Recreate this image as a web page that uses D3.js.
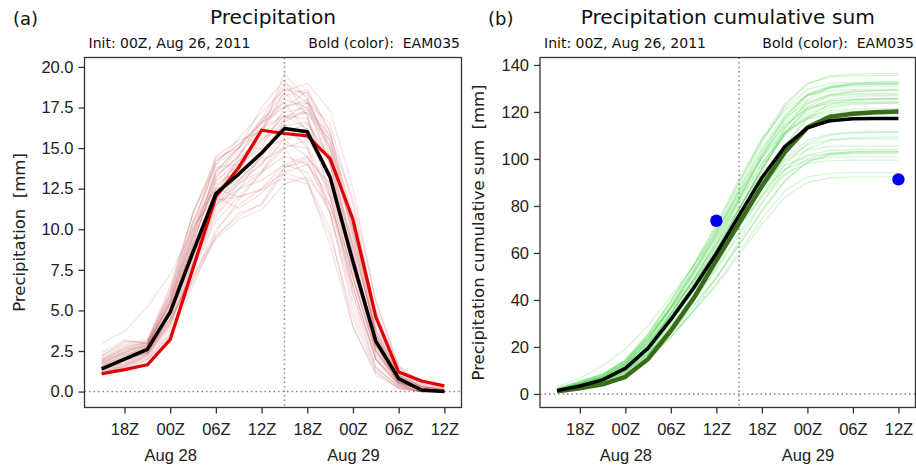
<!doctype html>
<html lang="en">
<head>
<meta charset="utf-8">
<title>Precipitation</title>
<style>
  body { margin: 0; background: white; }
  svg { display: block; font-family: "DejaVu Sans", sans-serif; }
  .axis path, .axis line { stroke: #333; stroke-width: 1.3px; }
  .axis text { font-size: 16.5px; fill: #222; }
  .spine { fill: none; stroke: #333; stroke-width: 1.3px; }
  .guide { stroke: #888; stroke-width: 1.5px; stroke-dasharray: 1.5,3; }
  .member { fill: none; }
  .title { font-size: 20.2px; fill: #111; text-anchor: middle; }
  .tag { font-size: 18px; fill: #111; }
  .sub { font-size: 14px; fill: #111; white-space: pre; }
  .ylabel { font-size: 16.5px; fill: #222; text-anchor: middle; white-space: pre; }
</style>
</head>
<body>
<script src="https://cdnjs.cloudflare.com/ajax/libs/d3/7.8.5/d3.min.js"></script>
<script>
// valid times, every 3 hours
var times = ["2011-08-27T15:00Z","2011-08-27T18:00Z","2011-08-27T21:00Z","2011-08-28T00:00Z",
             "2011-08-28T03:00Z","2011-08-28T06:00Z","2011-08-28T09:00Z","2011-08-28T12:00Z",
             "2011-08-28T15:00Z","2011-08-28T18:00Z","2011-08-28T21:00Z","2011-08-29T00:00Z",
             "2011-08-29T03:00Z","2011-08-29T06:00Z","2011-08-29T09:00Z","2011-08-29T12:00Z"];
var splitTime = "2011-08-28T15:00Z";

// ensemble mean (black) and highlighted member EAM035 (colour)
var meanPrecip   = [1.4,2.0,2.6,4.9,8.6,12.2,13.4,14.7,16.2,16.0,13.2,8.0,3.1,0.8,0.1,0.0];
var eam035Precip = [1.1,1.35,1.65,3.2,7.6,12.0,13.8,16.1,15.9,15.75,14.35,10.6,4.6,1.2,0.65,0.35];

// other ensemble members (3-hourly precipitation, mm)
var members = [
  [1.6,2.2,2.8,5.5,9.5,13.0,14.2,15.5,17.0,16.8,13.0,7.0,2.5,0.6,0.1,0.0],
  [1.2,1.6,2.3,4.2,7.5,11.5,13.5,16.0,18.5,19.0,17.3,12.5,5.5,1.5,0.5,0.2],
  [1.8,2.5,3.0,6.0,10.5,12.5,12.0,12.5,13.5,13.0,10.0,4.0,1.0,0.2,0.0,0.0],
  [1.0,1.4,2.0,3.5,7.0,9.5,11.0,11.5,13.5,14.0,12.0,6.0,1.5,0.3,0.0,0.0],
  [2.2,3.0,3.2,6.5,11.0,14.0,15.0,17.5,19.2,17.0,12.0,6.5,2.0,0.4,0.1,0.0],
  [3.0,3.7,5.2,7.2,10.0,12.5,13.0,14.5,16.5,15.0,11.0,5.5,1.5,0.3,0.0,0.0],
  [1.3,1.8,2.5,4.5,8.0,12.0,14.5,16.5,17.5,18.5,16.0,10.5,4.0,1.2,0.3,0.1],
  [1.5,2.1,2.7,5.2,9.0,13.5,14.8,15.0,15.5,14.5,11.5,7.5,3.0,0.8,0.2,0.0],
  [1.1,1.5,2.2,4.0,7.8,11.0,12.5,13.5,15.0,15.5,13.5,9.0,3.5,1.0,0.3,0.1],
  [1.9,2.6,2.9,5.8,10.0,14.5,15.5,16.0,18.0,17.5,14.0,8.5,3.0,0.7,0.1,0.0],
  [1.4,1.9,2.4,4.6,8.2,11.8,13.0,14.0,16.0,16.5,14.5,10.0,4.5,1.2,0.4,0.1],
  [1.7,2.3,2.6,5.0,8.5,11.5,12.5,13.0,14.0,13.5,11.0,6.0,2.0,0.5,0.0,0.0],
  [2.0,2.8,3.0,6.2,10.5,13.8,14.0,15.0,17.5,18.0,15.0,9.5,3.5,0.9,0.2,0.0],
  [1.2,1.7,2.3,4.3,7.5,10.5,12.0,13.5,14.5,14.0,11.5,7.0,2.5,0.6,0.1,0.0],
  [1.5,2.0,2.5,4.8,9.2,13.0,14.0,16.0,19.6,18.0,14.5,8.5,3.0,0.7,0.1,0.0],
  [1.3,1.8,2.4,4.4,8.0,11.2,12.8,14.0,15.5,16.0,13.0,7.5,2.8,0.6,0.1,0.0],
  [2.4,3.2,2.9,5.4,9.8,13.2,14.5,16.8,17.8,16.0,12.5,7.0,2.2,0.5,0.1,0.0],
  [1.6,2.2,2.7,5.0,8.8,12.3,13.8,15.2,16.8,17.2,15.5,11.0,5.0,1.5,0.5,0.2],
  [1.1,1.6,2.1,3.8,7.0,10.0,11.5,12.5,14.0,14.5,12.5,8.0,3.0,0.8,0.2,0.0],
  [1.8,2.4,2.8,5.6,9.6,13.6,15.0,16.2,17.0,16.2,13.5,8.2,2.8,0.6,0.1,0.0],
  [1.4,2.0,2.6,5.0,8.4,11.6,12.8,13.6,15.2,15.0,12.0,6.5,2.0,0.4,0.0,0.0],
  [1.0,1.3,1.9,3.4,6.5,9.8,11.8,13.5,15.8,16.2,14.0,9.0,3.8,1.0,0.3,0.1],
  [2.1,2.9,3.1,6.0,11.0,14.2,15.2,16.5,18.8,17.8,14.0,8.0,2.5,0.5,0.1,0.0],
  [1.5,2.1,2.5,4.7,8.3,12.0,13.2,14.2,15.0,13.0,9.0,4.0,1.2,0.2,0.0,0.0],
  [1.3,1.9,2.4,4.5,8.6,12.4,14.2,15.8,17.2,17.5,15.2,10.2,4.2,1.1,0.3,0.1],
  [1.7,2.4,2.8,5.3,9.4,12.8,13.6,14.8,16.4,16.6,14.2,9.2,3.6,0.9,0.2,0.0],
  [1.2,1.6,2.2,4.1,7.6,10.8,12.4,14.6,16.8,17.8,16.5,11.5,4.8,1.3,0.4,0.1],
  [2.2,3.1,3.0,5.9,10.2,12.0,11.3,12.2,13.8,14.2,11.0,5.0,1.4,0.3,0.0,0.0],
  [1.6,2.3,2.7,5.1,9.1,13.2,14.6,16.2,18.2,18.6,16.0,10.0,3.5,0.8,0.2,0.0],
  [1.4,2.0,2.5,4.9,8.8,12.6,14.0,15.4,17.0,17.2,15.0,9.8,3.8,1.0,0.3,0.1],
  [1.9,2.7,3.0,5.7,9.9,13.4,14.4,15.6,16.2,15.2,12.2,7.2,2.4,0.5,0.1,0.0],
  [1.3,1.7,2.3,4.2,7.8,11.4,13.0,14.4,16.6,17.4,15.8,11.8,5.6,1.6,0.6,0.3],
  [1.5,2.0,2.4,4.4,7.2,9.6,10.8,11.6,13.8,14.4,12.8,8.4,3.2,0.9,0.2,0.0],
  [1.8,2.5,2.9,5.5,9.7,14.2,15.2,16.6,18.4,17.0,13.2,7.6,2.6,0.6,0.1,0.0],
  [1.1,1.5,2.0,3.6,6.8,9.4,10.6,11.2,12.8,13.2,11.4,6.4,2.0,0.4,0.0,0.0],
  [1.9,2.6,2.8,5.4,9.0,11.8,12.0,12.4,13.2,12.8,9.6,4.6,1.2,0.2,0.0,0.0],
  [2.0,2.7,3.1,6.3,11.0,14.4,15.0,16.8,19.0,18.2,14.8,8.8,2.8,0.6,0.1,0.0],
  [1.7,2.4,2.9,5.6,10.4,14.0,15.6,17.2,18.6,18.4,15.6,9.6,3.4,0.8,0.2,0.0],
  [1.4,2.0,2.6,5.0,9.4,13.6,15.0,16.6,17.6,17.8,15.4,10.2,3.8,1.0,0.3,0.1]
];

// observed cumulative precipitation (blue dots)
var obsTimes  = ["2011-08-28T12:00Z","2011-08-29T12:00Z"];
var obsCumsum = [73.7, 91.3];

var yTicksPrecip = [0,2.5,5,7.5,10,12.5,15,17.5,20];
var yTicksCum    = [0,20,40,60,80,100,120,140];

var W = 916, H = 466;
var svg = d3.select("body").append("svg").attr("width", W).attr("height", H);

var parseT = d3.utcParse("%Y-%m-%dT%H:%MZ");
var tDates = times.map(parseT);

function toPoints(vals) {
  return vals.map(function(v, i) { return { t: tDates[i], v: v }; });
}

function drawPanel(opt) {
  var g = svg.append("g");
  var x0 = opt.left, x1 = opt.right, y0 = 57.5, y1 = 407.5;

  // matplotlib style 5% margins
  var tExt = d3.extent(tDates);
  var tPad = (tExt[1] - tExt[0]) * 0.05;
  var x = d3.scaleUtc()
      .domain([new Date(+tExt[0] - tPad), new Date(+tExt[1] + tPad)])
      .range([x0, x1]);
  var allVals = d3.merge(opt.series.concat([opt.mean, opt.bold]));
  var vExt = d3.extent(allVals);
  var vPad = (vExt[1] - vExt[0]) * 0.05;
  var y = d3.scaleLinear().domain([vExt[0] - vPad, vExt[1] + vPad]).range([y1, y0]);

  // guides
  g.append("line").attr("class", "guide")
    .attr("x1", x0).attr("x2", x1).attr("y1", y(0)).attr("y2", y(0));
  g.append("line").attr("class", "guide")
    .attr("x1", x(parseT(splitTime))).attr("x2", x(parseT(splitTime)))
    .attr("y1", y0).attr("y2", y1);

  var line = d3.line().x(function(d) { return x(d.t); }).y(function(d) { return y(d.v); });

  g.selectAll("path.member")
    .data(opt.series)
    .enter().append("path")
    .attr("class", "member")
    .attr("fill", "none")
    .attr("d", function(d) { return line(toPoints(d)); })
    .attr("stroke", opt.memberColor)
    .attr("stroke-opacity", opt.memberOpacity)
    .attr("stroke-width", 1.3);

  g.append("path").attr("fill", "none")
    .attr("d", line(toPoints(opt.bold)))
    .attr("stroke", opt.boldColor).attr("stroke-width", opt.boldWidth)
    .attr("stroke-linejoin", "round");
  g.append("path").attr("fill", "none")
    .attr("d", line(toPoints(opt.mean)))
    .attr("stroke", "black").attr("stroke-width", 3.5)
    .attr("stroke-linejoin", "round");

  if (opt.obs) {
    g.selectAll("circle.obs")
      .data(opt.obs)
      .enter().append("circle")
      .attr("class", "obs")
      .attr("cx", function(d) { return x(d.t); })
      .attr("cy", function(d) { return y(d.v); })
      .attr("r", 6.2)
      .attr("fill", "#0000ee");
  }

  // axes
  var xAxis = d3.axisBottom(x)
      .ticks(d3.utcHour.every(6))
      .tickFormat(d3.utcFormat("%HZ"))
      .tickSize(6).tickPadding(10).tickSizeOuter(0);
  var gx = g.append("g").attr("class", "axis")
      .attr("transform", "translate(0," + y1 + ")")
      .call(xAxis);
  gx.select(".domain").remove();
  gx.selectAll(".tick text").each(function(d) {
    if (d.getUTCHours() === 0) {
      d3.select(this).append("tspan")
        .attr("x", 0).attr("dy", "1.55em")
        .text(d3.utcFormat("%b %d")(d));
    }
  });

  var yAxis = d3.axisLeft(y)
      .tickValues(opt.yTicks)
      .tickFormat(opt.yFormat)
      .tickSize(6).tickPadding(5).tickSizeOuter(0);
  var gy = g.append("g").attr("class", "axis")
      .attr("transform", "translate(" + x0 + ",0)")
      .call(yAxis);
  gy.select(".domain").remove();

  g.append("rect").attr("class", "spine")
    .attr("x", x0).attr("y", y0).attr("width", x1 - x0).attr("height", y1 - y0);

  // texts
  g.append("text").attr("class", "title")
    .attr("x", (x0 + x1) / 2).attr("y", 24).text(opt.title);
  g.append("text").attr("class", "tag")
    .attr("x", opt.tagX).attr("y", 25).text(opt.tag);
  g.append("text").attr("class", "sub")
    .attr("x", x0 + 4).attr("y", 48).text("Init: 00Z, Aug 26, 2011");
  g.append("text").attr("class", "sub")
    .attr("x", x1 - 1.5).attr("y", 48).attr("text-anchor", "end")
    .text("Bold (color):  EAM035");
  g.append("text").attr("class", "ylabel")
    .attr("transform", "translate(" + opt.labelX + "," + ((y0 + y1) / 2) + ") rotate(-90)")
    .attr("dy", "0.35em")
    .text(opt.ylabel);
}

function cumsum(a) { return Array.from(d3.cumsum(a)); }

drawPanel({
  left: 84.5, right: 461.5,
  series: members, mean: meanPrecip, bold: eam035Precip,
  memberColor: "#b22222", memberOpacity: 0.13,
  boldColor: "#e00000", boldWidth: 3.2,
  yTicks: yTicksPrecip, yFormat: d3.format(".1f"),
  title: "Precipitation", tag: "(a)", tagX: 13,
  ylabel: "Precipitation  [mm]", labelX: 19
});

drawPanel({
  left: 540, right: 915.5,
  series: members.map(cumsum), mean: cumsum(meanPrecip), bold: cumsum(eam035Precip),
  memberColor: "#32cd32", memberOpacity: 0.2,
  boldColor: "#3a6b1c", boldWidth: 4.5,
  yTicks: yTicksCum, yFormat: d3.format("d"),
  obs: obsTimes.map(function(t, i) { return { t: parseT(t), v: obsCumsum[i] }; }),
  title: "Precipitation cumulative sum", tag: "(b)", tagX: 488,
  ylabel: "Precipitation cumulative sum  [mm]", labelX: 478
});
</script>
</body>
</html>
